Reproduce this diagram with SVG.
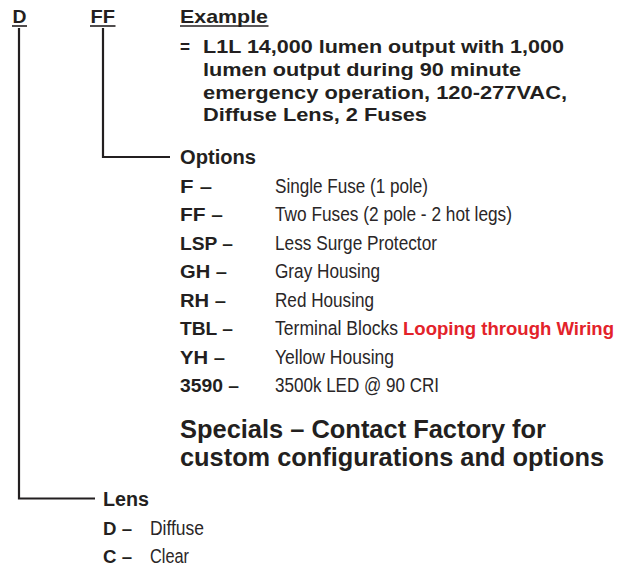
<svg xmlns="http://www.w3.org/2000/svg" width="630" height="569" viewBox="0 0 630 569">
<style>
text{font-family:"Liberation Sans",Arial,sans-serif;fill:#231f20}
.h{font-weight:bold;font-size:19px}
.hd{font-weight:bold;font-size:20px}
.ex{font-weight:bold;font-size:18.5px}
.code{font-weight:bold;font-size:18.5px}
.d{font-size:20.5px;fill:#2a2627}
.sp{font-weight:bold;font-size:25px}
.red{fill:#e3222a;font-weight:bold;font-size:19px}
.ln{fill:none;stroke:#231f20;stroke-width:2.2}
.ul{stroke:#231f20;stroke-width:1.6}
</style>
<g id="connectors">
<path class="ln" d="M19 28 V498.5 H95"/>
<path class="ln" d="M103 28 V157 H170"/>
</g>
<g id="header">
<text class="h" x="12.5" y="23" textLength="14" lengthAdjust="spacingAndGlyphs">D</text>
<line class="ul" x1="12" y1="26" x2="27" y2="26"/>
<text class="h" x="90.5" y="23" textLength="24.5" lengthAdjust="spacingAndGlyphs">FF</text>
<line class="ul" x1="90" y1="26" x2="115.5" y2="26"/>
<text class="h" x="180" y="23" textLength="88" lengthAdjust="spacingAndGlyphs">Example</text>
<line class="ul" x1="180" y1="26" x2="268.5" y2="26"/>
</g>
<g id="example">
<text class="ex" x="180" y="53" textLength="10" lengthAdjust="spacingAndGlyphs">=</text>
<text class="ex" x="203" y="53" textLength="361" lengthAdjust="spacingAndGlyphs">L1L 14,000 lumen output with 1,000</text>
<text class="ex" x="203" y="76" textLength="318" lengthAdjust="spacingAndGlyphs">lumen output during 90 minute</text>
<text class="ex" x="203" y="98.5" textLength="364" lengthAdjust="spacingAndGlyphs">emergency operation, 120-277VAC,</text>
<text class="ex" x="203" y="121" textLength="224" lengthAdjust="spacingAndGlyphs">Diffuse Lens, 2 Fuses</text>
</g>
<g id="options">
<text class="hd" x="180" y="164" textLength="76" lengthAdjust="spacingAndGlyphs">Options</text>
<text class="code" x="180" y="192.5" textLength="32" lengthAdjust="spacingAndGlyphs">F –</text>
<text class="d" x="275" y="192.5" textLength="153" lengthAdjust="spacingAndGlyphs">Single Fuse (1 pole)</text>
<text class="code" x="180" y="221" textLength="43" lengthAdjust="spacingAndGlyphs">FF –</text>
<text class="d" x="275" y="221" textLength="237" lengthAdjust="spacingAndGlyphs">Two Fuses (2 pole - 2 hot legs)</text>
<text class="code" x="180" y="249.5" textLength="53" lengthAdjust="spacingAndGlyphs">LSP –</text>
<text class="d" x="275" y="249.5" textLength="162" lengthAdjust="spacingAndGlyphs">Less Surge Protector</text>
<text class="code" x="180" y="278" textLength="47" lengthAdjust="spacingAndGlyphs">GH –</text>
<text class="d" x="275" y="278" textLength="105" lengthAdjust="spacingAndGlyphs">Gray Housing</text>
<text class="code" x="180" y="306.5" textLength="46" lengthAdjust="spacingAndGlyphs">RH –</text>
<text class="d" x="275" y="306.5" textLength="99" lengthAdjust="spacingAndGlyphs">Red Housing</text>
<text class="code" x="180" y="335" textLength="53" lengthAdjust="spacingAndGlyphs">TBL –</text>
<text class="d" x="275" y="335" textLength="123" lengthAdjust="spacingAndGlyphs">Terminal Blocks</text>
<text class="red" x="403" y="335" textLength="211" lengthAdjust="spacingAndGlyphs">Looping through Wiring</text>
<text class="code" x="180" y="363.5" textLength="45" lengthAdjust="spacingAndGlyphs">YH –</text>
<text class="d" x="275" y="363.5" textLength="119" lengthAdjust="spacingAndGlyphs">Yellow Housing</text>
<text class="code" x="180" y="392" textLength="59" lengthAdjust="spacingAndGlyphs">3590 –</text>
<text class="d" x="275" y="392" textLength="164" lengthAdjust="spacingAndGlyphs">3500k LED @ 90 CRI</text>
</g>
<g id="specials">
<text class="sp" x="180" y="437.5" textLength="366" lengthAdjust="spacingAndGlyphs">Specials – Contact Factory for</text>
<text class="sp" x="180" y="466" textLength="424" lengthAdjust="spacingAndGlyphs">custom configurations and options</text>
</g>
<g id="lens">
<text class="hd" x="103" y="506" textLength="46" lengthAdjust="spacingAndGlyphs">Lens</text>
<text class="code" x="103" y="535" textLength="29" lengthAdjust="spacingAndGlyphs">D –</text>
<text class="d" x="150" y="535" textLength="54" lengthAdjust="spacingAndGlyphs">Diffuse</text>
<text class="code" x="103" y="563" textLength="29" lengthAdjust="spacingAndGlyphs">C –</text>
<text class="d" x="150" y="563" textLength="39" lengthAdjust="spacingAndGlyphs">Clear</text>
</g>
</svg>
